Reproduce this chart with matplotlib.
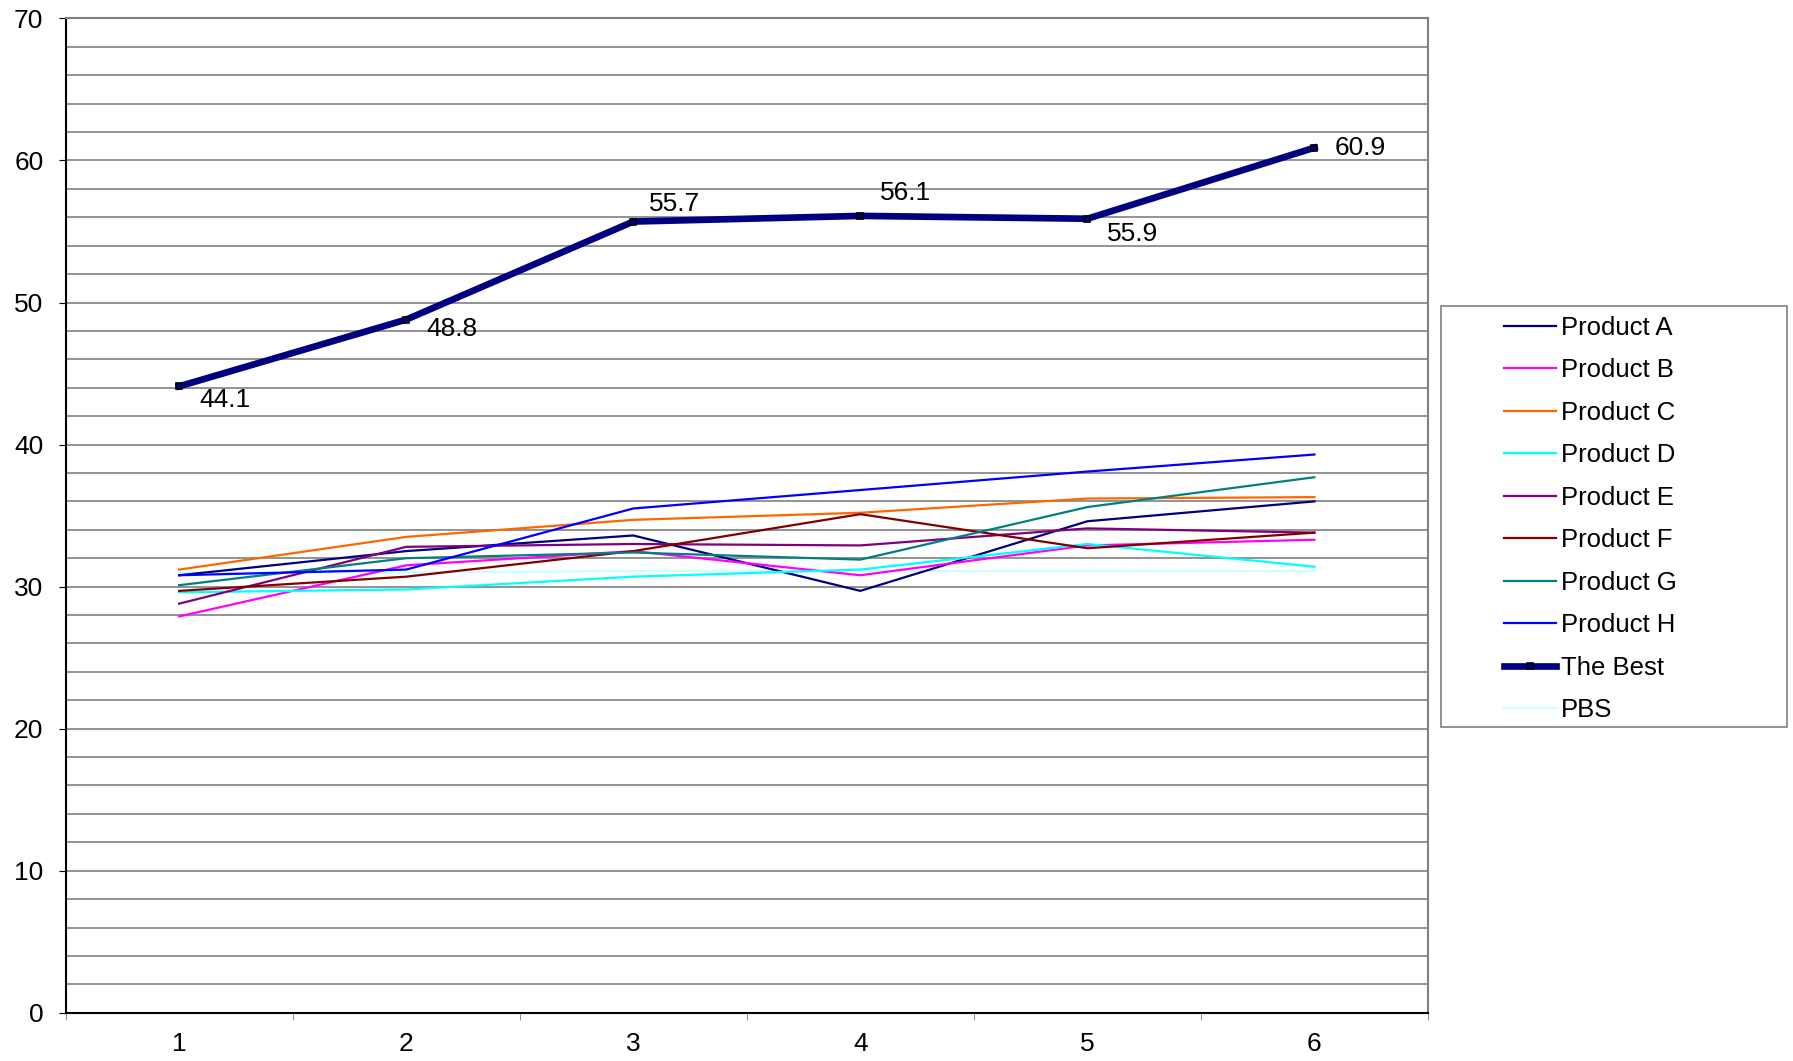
import numpy as np
import matplotlib.pyplot as plt
from matplotlib.patches import Rectangle

plt.rcParams['font.family'] = ['Liberation Sans', 'DejaVu Sans']

periods = [1, 2, 3, 4, 5, 6]

product_a = [30.8, 32.5, 33.6, 29.7, 34.6, 36.0]
product_b = [27.9, 31.5, 32.5, 30.8, 32.9, 33.3]
product_c = [31.2, 33.5, 34.7, 35.2, 36.2, 36.3]
product_d = [29.6, 29.8, 30.7, 31.2, 33.0, 31.4]
product_e = [28.8, 32.8, 33.0, 32.9, 34.1, 33.8]
product_f = [29.7, 30.7, 32.5, 35.1, 32.7, 33.8]
product_g = [30.1, 32.0, 32.4, 31.9, 35.6, 37.7]
product_h = [30.8, 31.2, 35.5, 36.8, 38.1, 39.3]
the_best = [44.1, 48.8, 55.7, 56.1, 55.9, 60.9]
pbs = [31.0, 31.0, 31.1, 31.1, 31.1, 31.1]

series = [
    ('Product A', product_a, '#000080'),
    ('Product B', product_b, '#FF00FF'),
    ('Product C', product_c, '#FF6600'),
    ('Product D', product_d, '#00FFFF'),
    ('Product E', product_e, '#800080'),
    ('Product F', product_f, '#800000'),
    ('Product G', product_g, '#008080'),
    ('Product H', product_h, '#0000FF'),
]

# label offsets in pixels (dx, dy) for the best line values
best_offsets = [(20, -14), (20, -9), (16, 18), (20, 23), (20, -15), (20, 0)]

fig = plt.figure(figsize=(17.93, 10.61), dpi=100)
ax = fig.add_axes([0.0366, 0.0455, 0.7598, 0.9371])

x = np.arange(len(periods))
handles = []
for name, vals, col in series:
    h, = ax.plot(x, vals, color=col, lw=1.6, label=name, zorder=3)
    handles.append(h)

h_best, = ax.plot(x, the_best, color='#000080', lw=4.8, marker='s', markersize=5,
                  markerfacecolor='#000080', markeredgecolor='black',
                  markeredgewidth=1.2, label='The Best', zorder=5)
h_pbs, = ax.plot(x, pbs, color='#CCFFFF', lw=1.6, label='PBS', zorder=2)
handles += [h_best, h_pbs]

for xi, v, (dx, dy) in zip(x, the_best, best_offsets):
    ax.annotate(f'{v:.1f}', (xi, v), xytext=(dx, dy), textcoords='offset pixels',
                ha='left', va='center', fontsize=19)

ax.set_xlim(-0.5, len(periods) - 0.5)
ax.set_ylim(0, 70)
ax.set_yticks(np.arange(0, 71, 10))
ax.set_yticks(np.arange(0, 71, 2), minor=True)
ax.yaxis.grid(True, which='both', color='#808080', lw=1.2)
ax.set_axisbelow(True)

ax.set_xticks(x)
ax.set_xticklabels([str(p) for p in periods])
ax.set_xticks(np.arange(-0.5, len(periods), 1), minor=True)
ax.tick_params(axis='x', which='major', length=0, pad=14, labelsize=19)
ax.tick_params(axis='x', which='minor', length=5, color='#808080', direction='out')
ax.tick_params(axis='y', which='major', length=5, pad=11, labelsize=19)
ax.tick_params(axis='y', which='minor', length=0)

for s in ['left', 'bottom']:
    ax.spines[s].set_color('black')
    ax.spines[s].set_linewidth(1.5)
for s in ['top', 'right']:
    ax.spines[s].set_color('#808080')
    ax.spines[s].set_linewidth(1.5)

# legend box drawn separately, entries placed inside it
fig.patches.append(Rectangle((0.8037, 0.3148), 0.193, 0.3968, transform=fig.transFigure,
                             fill=False, edgecolor='#808080', lw=1.2))
fig.legend(handles=handles, loc='upper left', bbox_to_anchor=(0.839, 0.7025),
           frameon=False, fontsize=18.5, handlelength=2.0, handletextpad=0.2,
           labelspacing=0.72, borderpad=0, borderaxespad=0)

fig.savefig('out.png', dpi=100)
